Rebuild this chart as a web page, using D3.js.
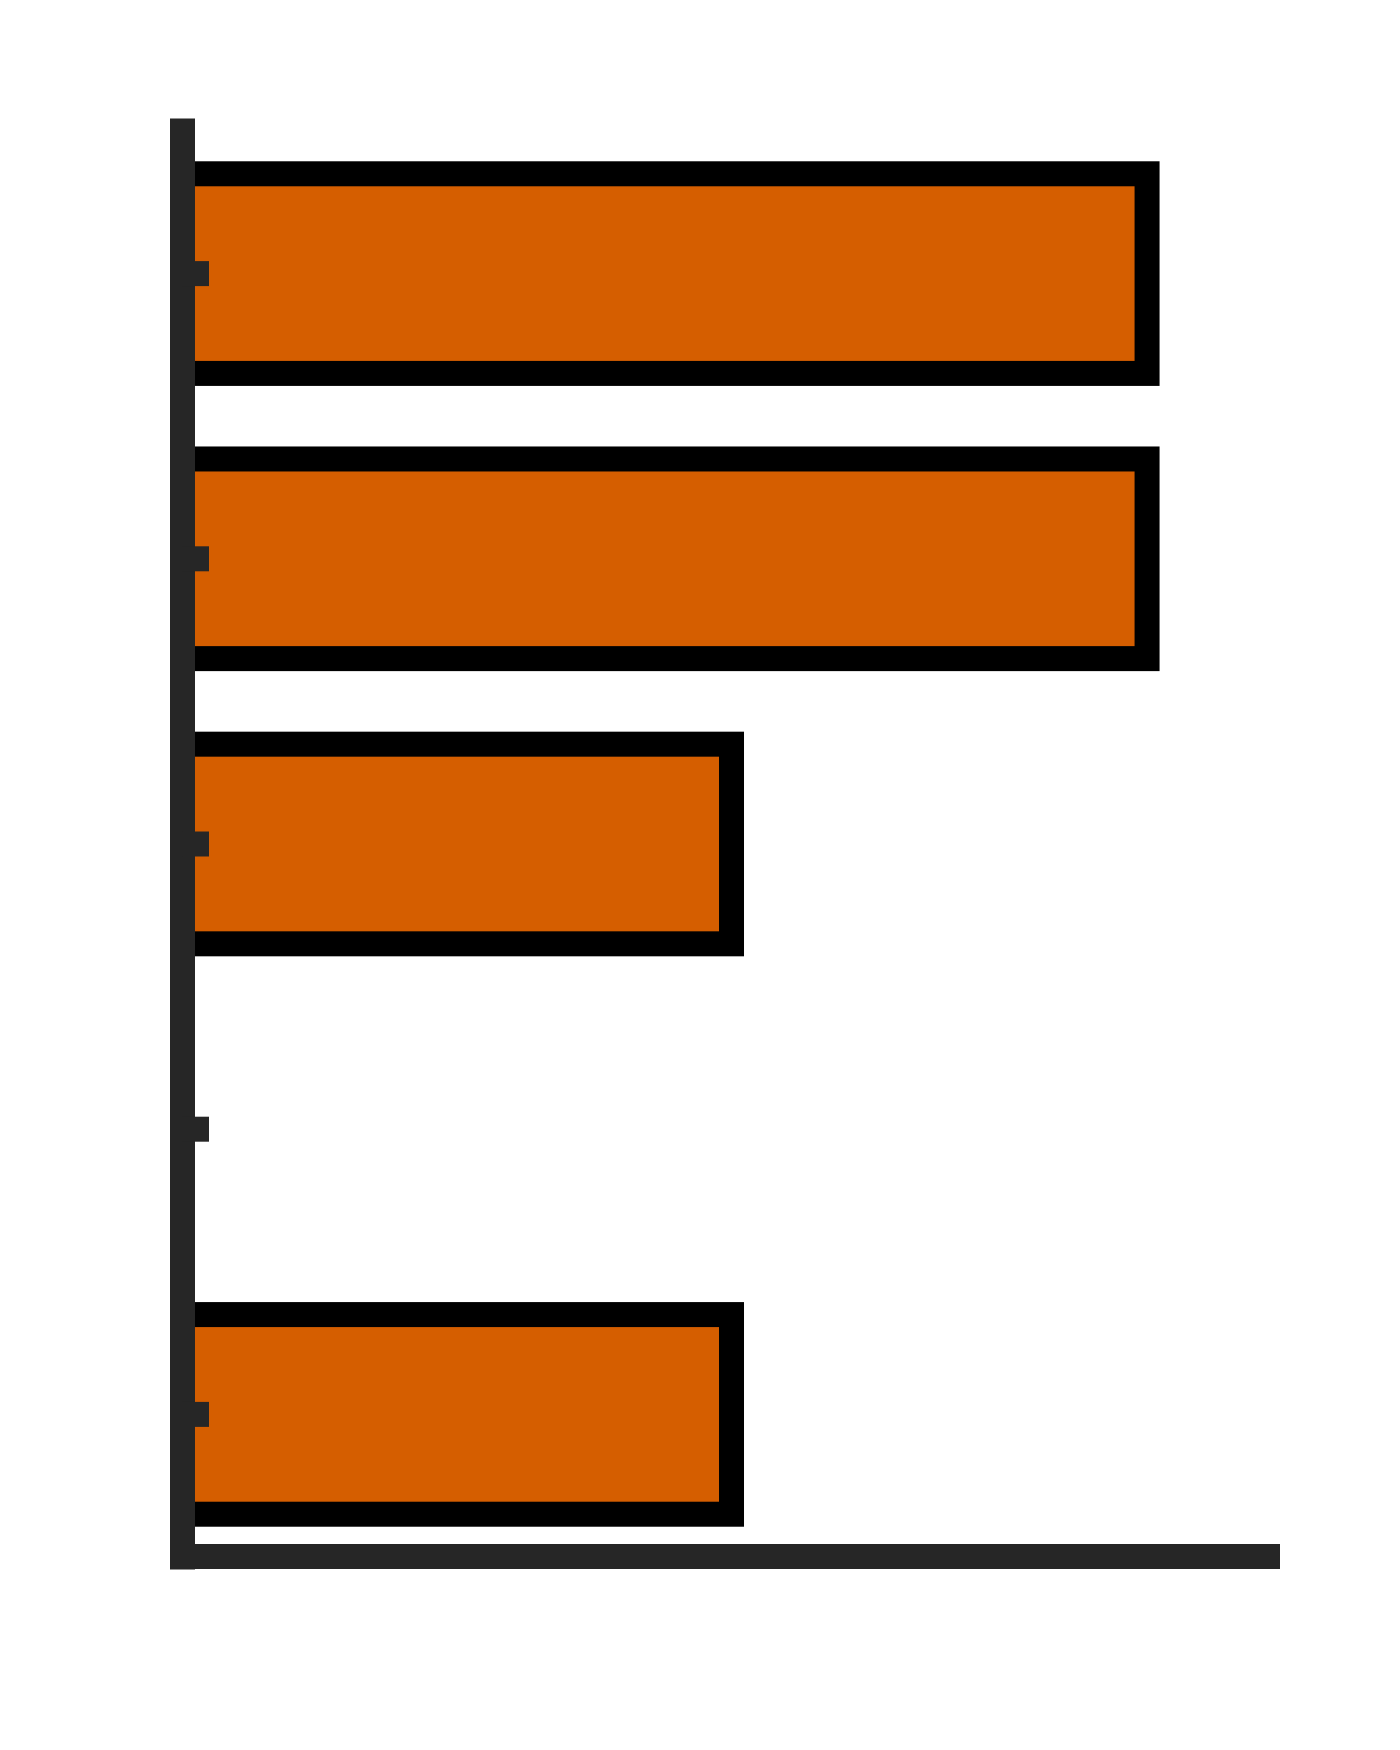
<!DOCTYPE html>
<html>
<head>
<meta charset="utf-8">
<script src="https://cdn.jsdelivr.net/npm/d3@7"></script>
<style>
  html, body { margin: 0; padding: 0; background: #ffffff; }
  svg { display: block; }
</style>
</head>
<body>
<div id="chart"></div>
<script>
// Data
const categories = ["A", "B", "C", "D", "E"];
const values = [8.89, 8.89, 5.06, 0, 5.06];
const xDomain = [0, 10];

const W = 1400, H = 1750;
const svg = d3.select("#chart").append("svg")
  .attr("width", W).attr("height", H);

svg.append("rect").attr("width", W).attr("height", H).attr("fill", "#ffffff");

const x = d3.scaleLinear().domain(xDomain).range([182.5, 1267.5]);
const y = d3.scaleBand().domain(categories).range([131, 1557])
  .paddingInner(0.3).paddingOuter(0.15);

// Bars
svg.append("g").selectAll("rect")
  .data(categories.map((c, i) => ({ c, v: values[i] })).filter(d => d.v > 0))
  .join("rect")
  .attr("x", x(0))
  .attr("y", d => y(d.c))
  .attr("width", d => x(d.v) - x(0))
  .attr("height", y.bandwidth())
  .attr("fill", "#D55E00")
  .attr("stroke", "#000000")
  .attr("stroke-width", 25);

// Y axis
const yAxis = svg.append("g")
  .attr("transform", `translate(${x(0)},0)`)
  .call(d3.axisLeft(y).offset(0).tickSizeInner(-26.5).tickSizeOuter(0).tickFormat(""));
yAxis.select(".domain").attr("stroke", "#262626").attr("stroke-width", 25)
  .attr("stroke-linecap", "square");
yAxis.selectAll(".tick line").attr("stroke", "#262626").attr("stroke-width", 25);

// X axis
const xAxis = svg.append("g")
  .attr("transform", `translate(0,${y.range()[1] - 0.5})`)
  .call(d3.axisBottom(x).offset(0).tickValues([]).tickSizeOuter(0));
xAxis.select(".domain").attr("stroke", "#262626").attr("stroke-width", 25)
  .attr("stroke-linecap", "square");
</script>
</body>
</html>
